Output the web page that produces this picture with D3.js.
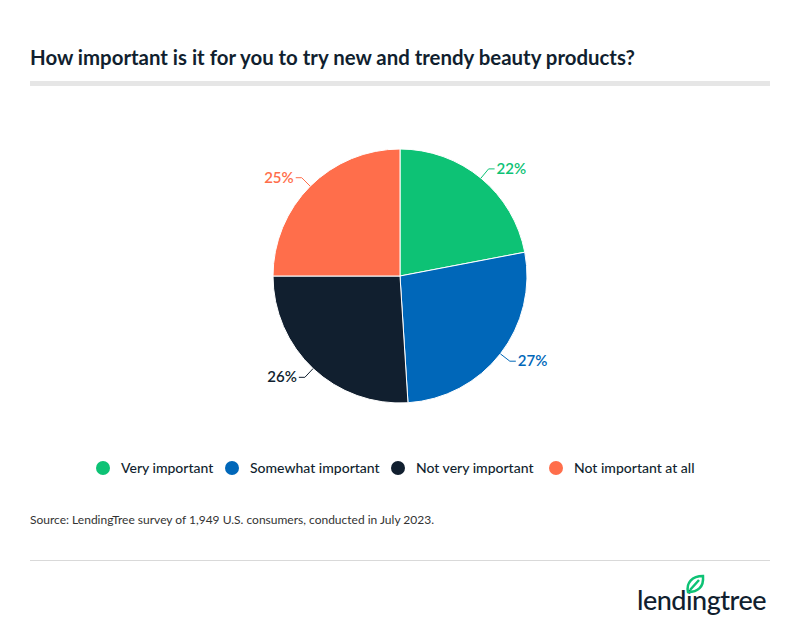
<!DOCTYPE html>
<html><head><meta charset="utf-8">
<script src="https://cdn.jsdelivr.net/npm/d3@7"></script>
<style>body{margin:0;background:#fff;font-family:Lato,sans-serif;}</style>
</head><body><div id="chart"></div>
<script>
var categories = ['Very important', 'Somewhat important', 'Not very important', 'Not important at all'];
var values = [22, 27, 26, 25];
var colors = ['#0dc275', '#0067b9', '#111f2f', '#ff6e4b'];
var labelColors = ['#0dc275', '#0067b9', '#111f2f', '#ff6e4b'];

var svg = d3.select('#chart').append('svg').attr('width', 800).attr('height', 631);

svg.append('text').attr('x', 30).attr('y', 65)
    .attr('font-size', 20.4).attr('font-weight', 700).attr('fill', '#111f2f')
    .text('How important is it for you to try new and trendy beauty products?');
svg.append('rect').attr('x', 30).attr('y', 81).attr('width', 740).attr('height', 5).attr('fill', '#e6e6e6');

var cx = 400, cy = 276, R = 127;
var pie = d3.pie().sort(null).value(function(d) { return d; });
var arcs = pie(values);
var arc = d3.arc().innerRadius(0).outerRadius(R);
var g = svg.append('g').attr('transform', 'translate(' + cx + ',' + cy + ')');
g.selectAll('path').data(arcs).enter().append('path')
    .attr('d', arc)
    .attr('fill', function(d, i) { return colors[i]; })
    .attr('stroke', '#fff').attr('stroke-width', 1);

// labels with short connectors
arcs.forEach(function(d, i) {
    var a = (d.startAngle + d.endAngle) / 2;
    var p1 = [Math.sin(a) * R, -Math.cos(a) * R];
    var p2 = [Math.sin(a) * (R + 12), -Math.cos(a) * (R + 12)];
    var right = Math.sin(a) > 0;
    var p3 = [p2[0] + (right ? 6 : -6), p2[1]];
    g.append('polyline')
        .attr('points', [p1, p2, p3].map(function(p) { return p.join(','); }).join(' '))
        .attr('fill', 'none').attr('stroke', labelColors[i]).attr('stroke-width', 1);
    g.append('text')
        .attr('x', p3[0] + (right ? 2 : -2)).attr('y', p3[1] + 5)
        .attr('text-anchor', right ? 'start' : 'end')
        .attr('font-size', 15).attr('font-weight', 600)
        .attr('fill', labelColors[i])
        .text(values[i] + '%');
});

// legend
var legendX = [103, 232, 398, 556];
categories.forEach(function(c, i) {
    svg.append('circle').attr('cx', legendX[i]).attr('cy', 468).attr('r', 7).attr('fill', colors[i]);
    svg.append('text').attr('x', legendX[i] + 18).attr('y', 473)
        .attr('font-size', 14).attr('font-weight', 500).attr('fill', '#111f2f').text(c);
});

svg.append('text').attr('x', 30).attr('y', 524).attr('font-size', 12).attr('fill', '#333')
    .text('Source: LendingTree survey of 1,949 U.S. consumers, conducted in July 2023.');
svg.append('rect').attr('x', 30).attr('y', 560).attr('width', 740).attr('height', 1).attr('fill', '#d9d9d9');

// logo
svg.append('text').attr('x', 637).attr('y', 610).attr('font-size', 27).attr('font-weight', 500)
    .attr('fill', '#111f2f').attr('letter-spacing', -0.5).text('lendingtree');
svg.append('path')
    .attr('d', 'M688,592 C686,583 692,576 703,576 C704,587 698,592 688,592 Z M690,590 L699,580')
    .attr('fill', 'none').attr('stroke', '#0dc275').attr('stroke-width', 2.5);
</script></body></html>
